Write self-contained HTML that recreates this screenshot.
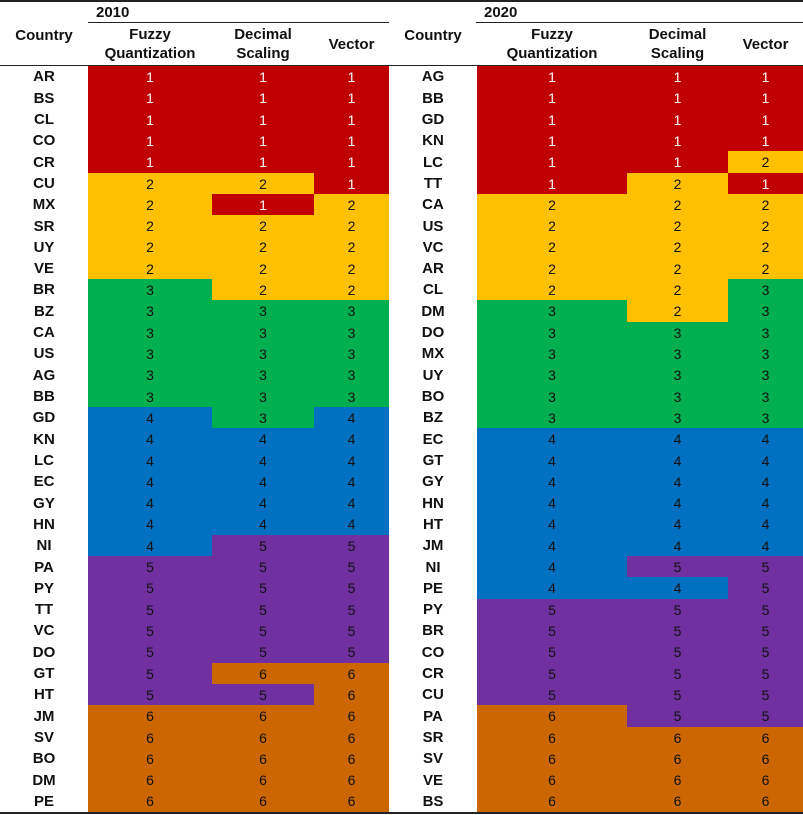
<!DOCTYPE html>
<html><head><meta charset="utf-8"><style>
body{margin:0;background:#fff;width:803px;height:815px;position:relative;overflow:hidden;font-family:"Liberation Sans","Noto Sans CJK JP",sans-serif;}
.a{position:absolute;box-sizing:border-box;display:flex;align-items:center;justify-content:center;text-align:center;}
.h{font-weight:bold;font-size:15px;line-height:19px;color:#111;}
.c{font-weight:bold;font-size:15px;color:#111;}
.n{font-size:14px;color:#111;}
.line{position:absolute;background:#222;}
</style></head><body>
<div class="line" style="left:0;top:0;width:803px;height:2px"></div>
<div class="line" style="left:0;top:65px;width:803px;height:1px"></div>
<div class="line" style="left:0;top:812px;width:803px;height:2px"></div>
<div class="line" style="left:88px;top:22px;width:301px;height:1px"></div>
<div class="line" style="left:476px;top:22px;width:327px;height:1px"></div>
<div class="a h" style="left:96px;top:2px;height:20px;justify-content:flex-start">2010</div>
<div class="a h" style="left:484px;top:2px;height:20px;justify-content:flex-start">2020</div>
<div id="root"></div>
<script>
const colors=["#C00000","#FFC000","#00B050","#0070C0","#7030A0","#CC6600"];
const headers=["Fuzzy<br>Quantization","Decimal<br>Scaling","Vector"];
const countries2010=["AR","BS","CL","CO","CR","CU","MX","SR","UY","VE","BR","BZ","CA","US","AG","BB","GD","KN","LC","EC","GY","HN","NI","PA","PY","TT","VC","DO","GT","HT","JM","SV","BO","DM","PE"];
const fuzzy2010=[1,1,1,1,1,2,2,2,2,2,3,3,3,3,3,3,4,4,4,4,4,4,4,5,5,5,5,5,5,5,6,6,6,6,6];
const decimal2010=[1,1,1,1,1,2,1,2,2,2,2,3,3,3,3,3,3,4,4,4,4,4,5,5,5,5,5,5,6,5,6,6,6,6,6];
const vector2010=[1,1,1,1,1,1,2,2,2,2,2,3,3,3,3,3,4,4,4,4,4,4,5,5,5,5,5,5,6,6,6,6,6,6,6];
const countries2020=["AG","BB","GD","KN","LC","TT","CA","US","VC","AR","CL","DM","DO","MX","UY","BO","BZ","EC","GT","GY","HN","HT","JM","NI","PE","PY","BR","CO","CR","CU","PA","SR","SV","VE","BS"];
const fuzzy2020=[1,1,1,1,1,1,2,2,2,2,2,3,3,3,3,3,3,4,4,4,4,4,4,4,4,5,5,5,5,5,6,6,6,6,6];
const decimal2020=[1,1,1,1,1,2,2,2,2,2,2,2,3,3,3,3,3,4,4,4,4,4,4,5,4,5,5,5,5,5,5,6,6,6,6];
const vector2020=[1,1,1,1,2,1,2,2,2,2,3,3,3,3,3,3,3,4,4,4,4,4,4,5,5,5,5,5,5,5,5,6,6,6,6];
const top0=66, rowH=21.31;
const root=document.getElementById('root');
function panel(year,countries,series,cx,cw,colX){
  const hc=document.createElement('div');hc.className='a h';
  
  
  hc.style.cssText=`left:${cx}px;top:23px;width:${cw}px;height:24px`;hc.textContent='Country';root.appendChild(hc);
  for(let j=0;j<3;j++){
    const h=document.createElement('div');h.className='a h';
    
    
    h.style.cssText=`left:${colX[j]}px;top:23px;width:${colX[j+1]-colX[j]}px;height:42px`;h.innerHTML=headers[j];root.appendChild(h);
  }
  countries.forEach((c,i)=>{
    const y=top0+i*rowH;
    const d=document.createElement('div');d.className='a c';
    
    
    d.style.cssText=`left:${cx}px;top:${y}px;width:${cw}px;height:${rowH+0.5}px`;d.textContent=c;root.appendChild(d);
    for(let j=0;j<3;j++){
      const v=series[j][i];
      const e=document.createElement('div');e.className='a n';
      
      
      e.style.cssText=`left:${colX[j]}px;top:${y}px;width:${colX[j+1]-colX[j]}px;height:${rowH+0.6}px;background:${colors[v-1]};color:${v==1?'#fff':'#111'}`;
      e.textContent=v;root.appendChild(e);
    }
  });
}
panel('2010',countries2010,[fuzzy2010,decimal2010,vector2010],0,88,[88,212,314,389]);
panel('2020',countries2020,[fuzzy2020,decimal2020,vector2020],389,88,[477,627,728,803]);
</script>
</body></html>
